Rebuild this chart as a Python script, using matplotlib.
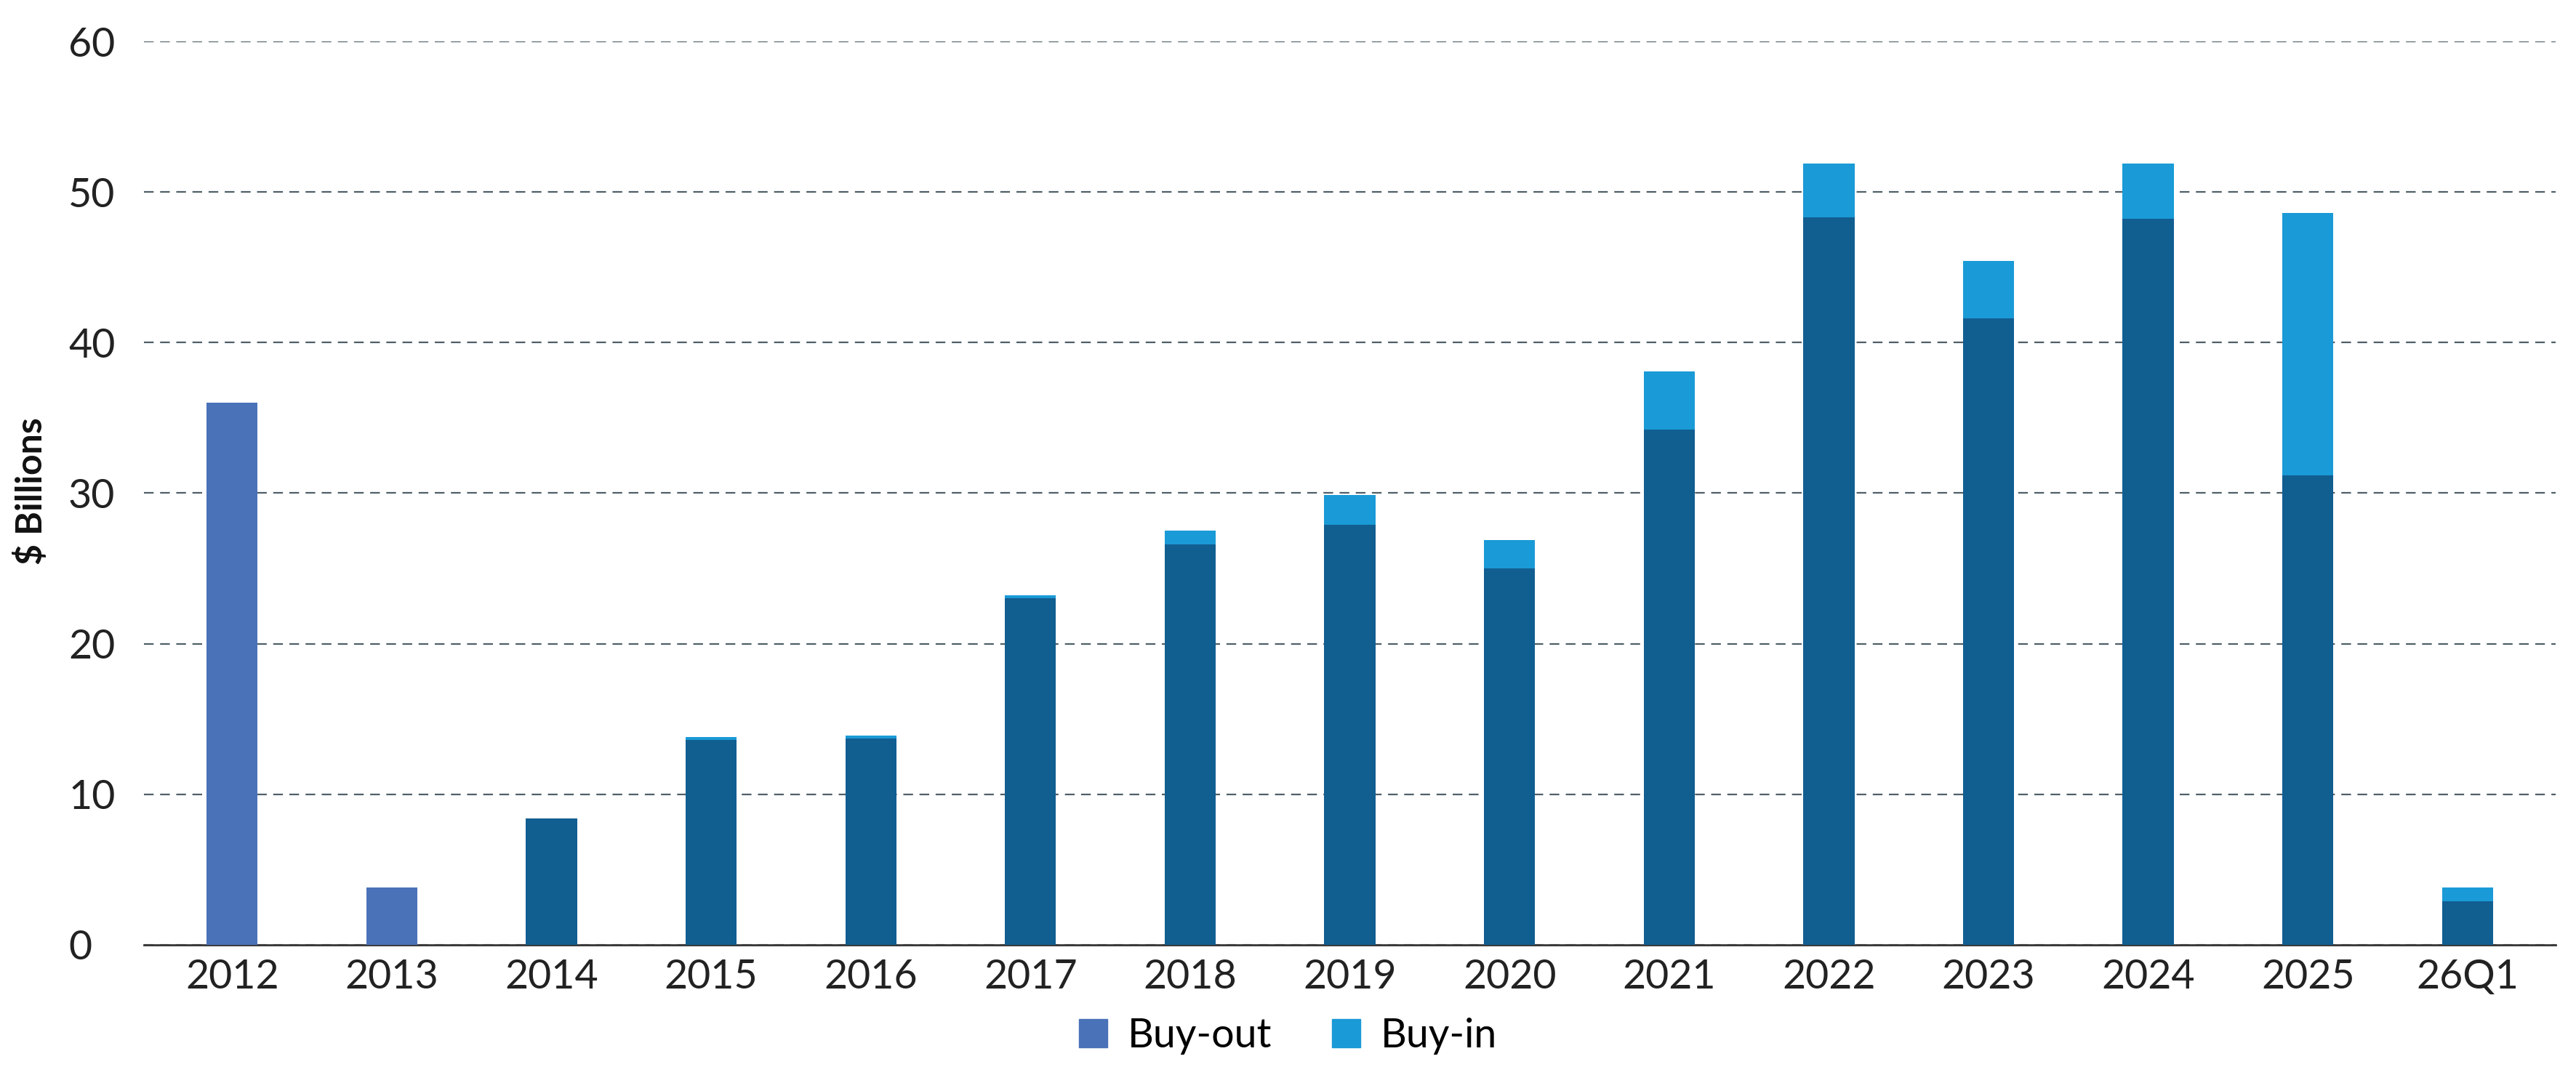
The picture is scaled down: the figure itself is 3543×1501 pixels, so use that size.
import matplotlib
matplotlib.use("Agg")
import matplotlib.pyplot as plt
import numpy as np
from matplotlib.patches import Patch

years = ["2012","2013","2014","2015","2016","2017","2018","2019","2020","2021","2022","2023","2024","2025","26Q1"]
buyout = [36.0,3.8,8.4,13.6,13.7,23.0,26.6,27.9,25.0,34.2,48.3,41.6,48.2,31.2,2.9]
buyin = [0,0,0,0.2,0.2,0.2,0.9,2.0,1.9,3.9,3.6,3.8,3.7,17.4,0.9]

plt.rcParams['font.family'] = ['Lato', 'DejaVu Sans']
fig = plt.figure(figsize=(35.43, 15.01), dpi=100)
ax = fig.add_axes([0.056, 0.134, 0.936, 0.828])
x = np.arange(len(years))
light_out = "#4a72b8"
dark_out = "#115e91"
cols = [light_out if i < 2 else dark_out for i in range(len(years))]
ax.bar(x, buyout, width=0.32, color=cols, zorder=3)
ax.bar(x, buyin, width=0.32, bottom=buyout, color="#1a9ad6", zorder=3)
ax.set_ylim(0, 60)
ax.set_xlim(-0.55, len(years) - 0.45)
ax.set_yticks(range(0, 61, 10))
ax.yaxis.grid(True, linestyle=(0, (6, 4)), color="#4f5f68", linewidth=1.6, zorder=0)
for s in ["top", "right", "left"]:
    ax.spines[s].set_visible(False)
ax.spines["bottom"].set_color("#333333")
ax.spines["bottom"].set_linewidth(2)
ax.set_xticks(x)
ax.set_xticklabels(years)
ax.tick_params(axis="both", labelsize=40, length=0, colors="#222222")
ax.tick_params(axis="x", pad=14)
for lab in ax.get_yticklabels():
    lab.set_horizontalalignment("left")
    lab.set_x(-0.03)
fig.text(0.012, 0.55, "$ Billions", rotation=90, fontsize=36, fontweight="bold",
         ha="center", va="center", color="#111111")
fig.legend(handles=[Patch(color=light_out, label="Buy-out"), Patch(color="#1a9ad6", label="Buy-in")],
           loc="lower center", bbox_to_anchor=(0.5, 0.0), ncol=2, frameon=False, fontsize=40,
           handlelength=0.7, handleheight=0.7, columnspacing=1.5, handletextpad=0.5)
fig.savefig("out.png", dpi=100)
